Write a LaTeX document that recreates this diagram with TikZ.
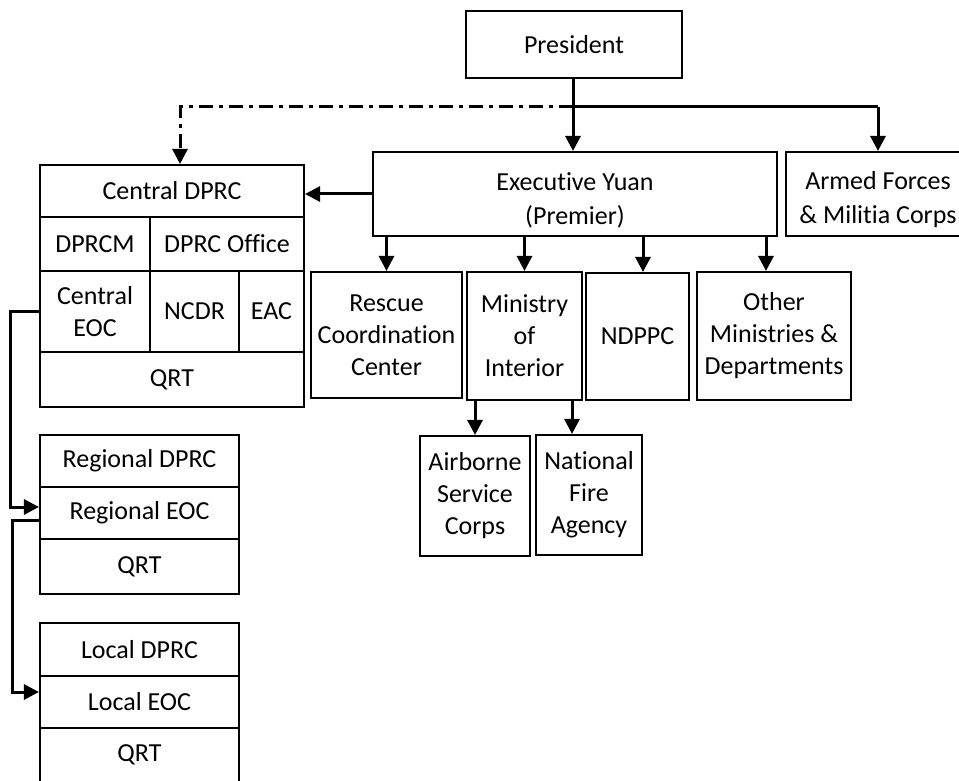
\documentclass[tikz,border=0pt]{standalone}
\usepackage{fontspec}
\setmainfont{Carlito}[Ligatures=CommonOff]
\usetikzlibrary{arrows.meta,calc}
\begin{document}
\begin{tikzpicture}[x=1pt,y=-1pt,
  box/.style={draw, line width=2.1pt, inner sep=0pt, align=center,
    font=\fontsize{26}{32}\selectfont},
  conn/.style={line width=3pt, -{Triangle[length=15pt,width=15pt]}},
  dashdot/.style={line width=3pt, dash pattern=on 14pt off 6pt on 4pt off 6pt,
    -{Triangle[length=15pt,width=15pt]}}]
\useasboundingbox (0,0) rectangle (959,781);

% top level
\node[box, minimum width=216pt, minimum height=67pt] (pres) at (574,44.5) {President};
\node[box, minimum width=404pt, minimum height=84pt] (exec) at (575,194) {\rule{0pt}{30pt}Executive Yuan\\[2pt](Premier)};
\node[box, minimum width=184pt, minimum height=84pt] (armed) at (878,194) {\rule{0pt}{30pt}Armed Forces\\[2pt]\& Militia Corps};

% central DPRC block
\node[box, minimum width=264pt, minimum height=52pt] (cdprc) at (172,191) {Central DPRC};
\node[box, minimum width=110pt, minimum height=54pt] (dprcm) at (95,244) {DPRCM};
\node[box, minimum width=154pt, minimum height=54pt] (dprcoff) at (227,244) {DPRC Office};
\node[box, minimum width=110pt, minimum height=81pt] (ceoc) at (95,311.5) {Central\\EOC};
\node[box, minimum width=89pt, minimum height=81pt] (ncdr) at (194.5,311.5) {NCDR};
\node[box, minimum width=65pt, minimum height=81pt] (eac) at (271.5,311.5) {EAC};
\node[box, minimum width=264pt, minimum height=55pt] (cqrt) at (172,379.5) {QRT};

% regional block
\node[box, minimum width=199pt, minimum height=52pt] (rdprc) at (139.5,461) {Regional DPRC};
\node[box, minimum width=199pt, minimum height=52pt] (reoc) at (139.5,513) {Regional EOC};
\node[box, minimum width=199pt, minimum height=55pt] (rqrt) at (139.5,566.5) {QRT};

% local block
\node[box, minimum width=199pt, minimum height=53pt] (ldprc) at (139.5,649.5) {Local DPRC};
\node[box, minimum width=199pt, minimum height=52pt] (leoc) at (139.5,702) {Local EOC};
\node[box, minimum width=199pt, minimum height=54pt] (lqrt) at (139.5,755) {QRT};

% executive children
\node[box, minimum width=151pt, minimum height=126pt] (rescue) at (386.5,335) {Rescue\\Coordination\\Center};
\node[box, minimum width=115pt, minimum height=128pt] (moi) at (524.5,336) {Ministry\\of\\Interior};
\node[box, minimum width=103pt, minimum height=127pt] (ndppc) at (637.5,336.5) {NDPPC};
\node[box, minimum width=154pt, minimum height=128pt] (other) at (774,336) {Other\\Ministries \&\\Departments};

% ministry children
\node[box, minimum width=110pt, minimum height=120pt] (asc) at (475,496) {Airborne\\Service\\Corps};
\node[box, minimum width=106pt, minimum height=120pt] (nfa) at (589,495) {National\\Fire\\Agency};

% helper coordinates
\coordinate (j) at (573,107);
\coordinate (nt) at ([xshift=5.5pt]ndppc.north);
\coordinate (ot) at ([xshift=-8pt]other.north);
\coordinate (ft) at ([xshift=-17pt]nfa.north);
\coordinate (ct) at ([xshift=8pt]cdprc.north);

% connectors
\draw[conn] ([xshift=-1pt]pres.south) -- ([xshift=-1pt]pres.south |- exec.north);
\draw[line width=3pt] (j) -- (j -| armed.north);
\draw[conn] (j -| armed.north) -- (armed.north);
\draw[dashdot] (j) -| (ct);
\draw[conn] (exec.west) -- (exec.west -| cdprc.east);

\draw[conn] (exec.south -| rescue.north) -- (rescue.north);
\draw[conn] (exec.south -| moi.north) -- (moi.north);
\draw[conn] (exec.south -| nt) -- (nt);
\draw[conn] (exec.south -| ot) -- (ot);

\draw[conn] (moi.south -| asc.north) -- (asc.north);
\draw[conn] (moi.south -| ft) -- (ft);

\draw[conn] (ceoc.west) -- ++(-28pt,0) |- ([yshift=6pt]reoc.west);
\draw[conn] ([yshift=-7pt]reoc.west) -- ++(-26pt,0) |- ([yshift=10pt]leoc.west);
\end{tikzpicture}
\end{document}
